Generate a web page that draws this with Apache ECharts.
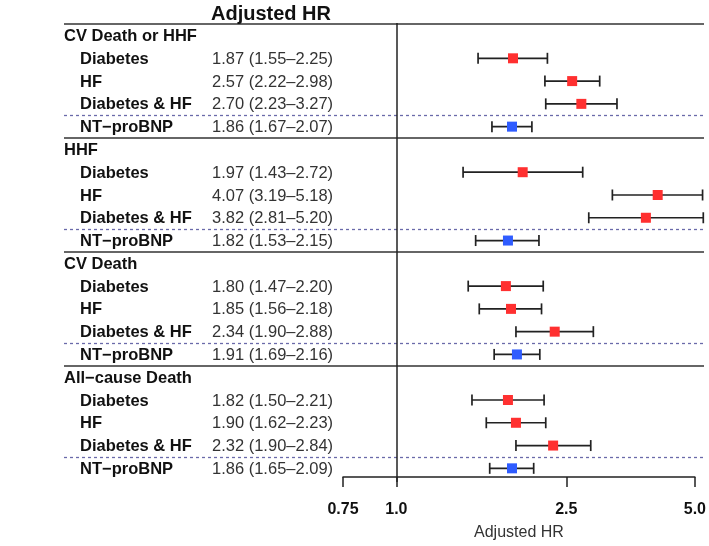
<!DOCTYPE html>
<html>
<head>
<meta charset="utf-8">
<script src="https://cdn.jsdelivr.net/npm/echarts@6/dist/echarts.min.js"></script>
<style>html,body{margin:0;padding:0;background:#fff}#c{width:709px;height:546px}</style>
</head>
<body>
<div id="c"></div>
<script>
const groups = ['CV Death or HHF', 'HHF', 'CV Death', 'All−cause Death'];
const subgroups = ['Diabetes', 'HF', 'Diabetes & HF', 'NT−proBNP'];
const hr    = [1.87, 2.57, 2.70, 1.86,  1.97, 4.07, 3.82, 1.82,  1.80, 1.85, 2.34, 1.91,  1.82, 1.90, 2.32, 1.86];
const lower = [1.55, 2.22, 2.23, 1.67,  1.43, 3.19, 2.81, 1.53,  1.47, 1.56, 1.90, 1.69,  1.50, 1.62, 1.90, 1.65];
const upper = [2.25, 2.98, 3.27, 2.07,  2.72, 5.18, 5.20, 2.15,  2.20, 2.18, 2.88, 2.16,  2.21, 2.23, 2.84, 2.09];
const xTicks = [0.75, 1.0, 2.5, 5.0];
const xTickLabels = ['0.75', '1.0', '2.5', '5.0'];
const headerText = 'Adjusted HR';
const axisTitle = 'Adjusted HR';

const RED = '#ff3030', BLUE = '#2f5cff';
const FONT = '"Liberation Sans", Arial, Helvetica, sans-serif';

// build rows
const rows = [];
const marks = [];
const bars = [];
groups.forEach((g, gi) => {
  rows.push({ row: gi * 5, kind: 'group', label: g });
  subgroups.forEach((s, si) => {
    const i = gi * 4 + si;
    const r = gi * 5 + 1 + si;
    const col = si === 3 ? BLUE : RED;
    rows.push({ row: r, kind: 'sub', label: s,
      text: hr[i].toFixed(2) + ' (' + lower[i].toFixed(2) + '–' + upper[i].toFixed(2) + ')' });
    marks.push({ value: [hr[i], r], itemStyle: { color: col, opacity: 1 } });
    bars.push([lower[i], upper[i], r]);
  });
});

const solidLines = [-0.5, 4.5, 9.5, 14.5];
const dashedLines = [3.5, 8.5, 13.5, 18.5];

const yCommon = { type: 'value', min: -0.55, max: 19.6, inverse: true, show: false };

const chart = echarts.init(document.getElementById('c'));
chart.setOption({
  animation: false,
  title: {
    text: headerText, left: 206, top: -1,
    textStyle: { fontFamily: FONT, fontSize: 20, fontWeight: 'bold', color: '#111' }
  },
  grid: [
    { left: 64, right: 5, top: 23, bottom: 64 },
    { left: 343, right: 5, top: 23, bottom: 64 },
    { left: 343, right: 13, top: 23, bottom: 64 }
  ],
  xAxis: [
    { gridIndex: 0, type: 'value', min: 0, max: 1, show: false },
    { gridIndex: 1, type: 'log', min: 0.75, max: 5.22, show: false },
    { gridIndex: 2, type: 'log', min: 0.75, max: 5.0, position: 'bottom',
      axisLine: { show: true, onZero: false, lineStyle: { color: '#222', width: 1.5 } },
      axisTick: { show: true, customValues: xTicks, length: 10, inside: false, lineStyle: { color: '#222', width: 1.5 } },
      axisLabel: { show: true, customValues: xTicks, margin: 25,
        formatter: v => { const k = xTicks.findIndex(t => Math.abs(t - v) < 1e-6); return k >= 0 ? xTickLabels[k] : ''; },
        fontFamily: FONT, fontSize: 16, fontWeight: 'bold', color: '#111' },
      splitLine: { show: false }, minorTick: { show: false },
      name: axisTitle, nameLocation: 'middle', nameGap: 48,
      nameTextStyle: { fontFamily: FONT, fontSize: 16, color: '#333' }
    }
  ],
  yAxis: [
    Object.assign({ gridIndex: 0 }, yCommon),
    Object.assign({ gridIndex: 1 }, yCommon),
    Object.assign({ gridIndex: 2 }, yCommon)
  ],
  series: [
    {
      type: 'custom', xAxisIndex: 0, yAxisIndex: 0,
      data: rows.map(r => [0, r.row]),
      encode: { x: 0, y: 1 },
      renderItem: (params, api) => {
        const r = rows[params.dataIndex];
        const p = api.coord([0, r.row]);
        const children = [];
        if (r.kind === 'group') {
          children.push({ type: 'text', x: p[0], y: p[1] + 1,
            style: { text: r.label, fontFamily: FONT, fontSize: 16.5, fontWeight: 'bold', fill: '#111', align: 'left', verticalAlign: 'middle' } });
        } else {
          children.push({ type: 'text', x: p[0] + 16, y: p[1] + 1,
            style: { text: r.label, fontFamily: FONT, fontSize: 16.5, fontWeight: 'bold', fill: '#111', align: 'left', verticalAlign: 'middle' } });
          children.push({ type: 'text', x: p[0] + 148, y: p[1] + 1,
            style: { text: r.text, fontFamily: FONT, fontSize: 16.5, fill: '#333', align: 'left', verticalAlign: 'middle' } });
        }
        return { type: 'group', children };
      },
      markLine: {
        silent: true, symbol: 'none', label: { show: false },
        data: solidLines.map(v => ({ yAxis: v, lineStyle: { color: '#333', width: 1.5, type: 'solid' } }))
          .concat(dashedLines.map(v => ({ yAxis: v, lineStyle: { color: '#6a6aaa', width: 1.3, type: [3, 3] } })))
      }
    },
    {
      type: 'custom', xAxisIndex: 1, yAxisIndex: 1,
      data: bars,
      encode: { x: [0, 1], y: 2 },
      renderItem: (params, api) => {
        const a = api.coord([api.value(0), api.value(2)]);
        const b = api.coord([api.value(1), api.value(2)]);
        const st = { stroke: '#222', lineWidth: 1.7 };
        const h = 5.5;
        return { type: 'group', children: [
          { type: 'line', shape: { x1: a[0], y1: a[1], x2: b[0], y2: b[1] }, style: st },
          { type: 'line', shape: { x1: a[0], y1: a[1] - h, x2: a[0], y2: a[1] + h }, style: st },
          { type: 'line', shape: { x1: b[0], y1: b[1] - h, x2: b[0], y2: b[1] + h }, style: st }
        ] };
      },
      markLine: {
        silent: true, symbol: 'none', label: { show: false },
        lineStyle: { color: '#222', width: 1.5, type: 'solid' },
        data: [{ xAxis: 1 }]
      }
    },
    {
      type: 'scatter', xAxisIndex: 1, yAxisIndex: 1,
      symbol: 'rect', symbolSize: 10,
      itemStyle: { opacity: 1 },
      data: marks, z: 5
    }
  ]
});
</script>
</body>
</html>
